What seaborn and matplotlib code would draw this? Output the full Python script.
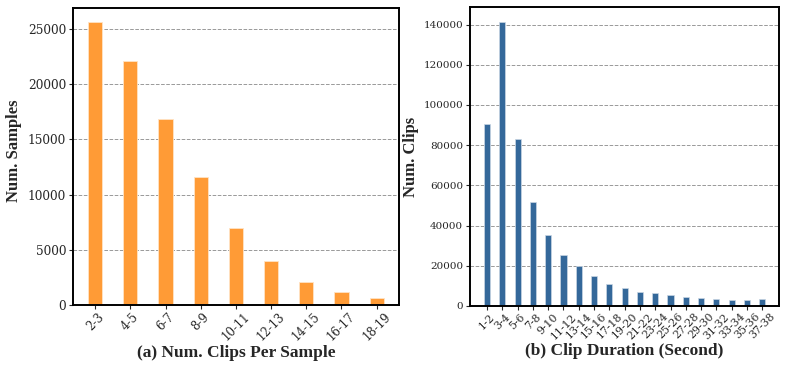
import matplotlib
matplotlib.use("Agg")
import matplotlib.pyplot as plt
import seaborn as sns
import pandas as pd

# (a) clips per sample
clip_bins = ['2-3', '4-5', '6-7', '8-9', '10-11', '12-13', '14-15', '16-17', '18-19']
num_samples = [25600, 22100, 16800, 11600, 6970, 4010, 2110, 1150, 660]

# (b) clip duration
dur_bins = ['1-2', '3-4', '5-6', '7-8', '9-10', '11-12', '13-14', '15-16', '17-18',
            '19-20', '21-22', '23-24', '25-26', '27-28', '29-30', '31-32', '33-34',
            '35-36', '37-38']
num_clips = [90500, 141400, 83000, 51800, 35400, 25400, 19900, 14800, 11100,
             8700, 7100, 6300, 5400, 4600, 4000, 3500, 3100, 2800, 3500]

sns.set_style("ticks")
plt.rcParams['font.family'] = ['DejaVu Serif']

fig = plt.figure(figsize=(7.89, 3.66), dpi=100)
ax1 = fig.add_axes([0.0925, 0.1667, 0.413, 0.8115])
ax2 = fig.add_axes([0.5957, 0.164, 0.392, 0.816])

df1 = pd.DataFrame({'bin': clip_bins, 'n': num_samples})
df2 = pd.DataFrame({'bin': dur_bins, 'n': num_clips})

sns.barplot(data=df1, x='bin', y='n', color='#FF9B36', saturation=1, width=0.4,
            edgecolor='#FFE3C4', linewidth=0.6, ax=ax1)
sns.barplot(data=df2, x='bin', y='n', color='#34689A', saturation=1, width=0.4,
            edgecolor='#C9D6E4', linewidth=0.5, ax=ax2)

ax1.set_xlim(-0.63, 8.63)
ax1.set_ylim(0, 26900)
ax1.set_yticks([0, 5000, 10000, 15000, 20000, 25000])
ax2.set_xlim(-1.11, 18 + 1.11)
ax2.set_ylim(0, 148600)
ax2.set_yticks([0, 20000, 40000, 60000, 80000, 100000, 120000, 140000])

xlabel_font = dict(family='Liberation Serif', weight='bold', size=12.5)
ylabel_font = dict(family='Liberation Serif', weight='bold', size=12)
ax1.set_ylabel('Num. Samples', fontdict=ylabel_font)
ax1.set_xlabel('(a) Num. Clips Per Sample', fontdict=xlabel_font)
ax2.set_ylabel('Num. Clips', fontdict=ylabel_font)
ax2.set_xlabel('(b) Clip Duration (Second)', fontdict=xlabel_font)
ax1.yaxis.set_label_coords(-0.156, 0.52)
ax1.xaxis.set_label_coords(0.5, -0.136)
ax2.yaxis.set_label_coords(-0.165, 0.5)
ax2.xaxis.set_label_coords(0.5, -0.125)

for ax, xs, ys in ((ax1, 8.5, 8.7), (ax2, 7.8, 7.5)):
    ax.set_axisbelow(True)
    ax.grid(axis='y', linestyle='--', color='#999999', linewidth=0.7)
    ax.tick_params(axis='y', labelsize=ys, length=3, width=0.8, pad=2)
    ax.tick_params(axis='x', labelsize=xs, length=3, width=0.8, pad=1)
    plt.setp(ax.get_xticklabels(), rotation=45)
    for s in ax.spines.values():
        s.set_visible(True)
        s.set_color('black')
        s.set_linewidth(1.4)

fig.savefig('out.png', dpi=100)
